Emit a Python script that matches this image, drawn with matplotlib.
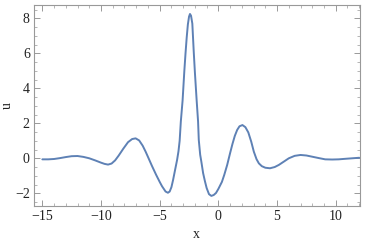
import matplotlib
matplotlib.use("Agg")
import matplotlib.pyplot as plt
from matplotlib.ticker import MultipleLocator

x_vals = [-15.0, -14.5, -14.0, -13.5, -13.0, -12.5, -12.0, -11.5, -11.0, -10.5,
          -10.0, -9.7, -9.4, -9.1, -8.8, -8.5, -8.1, -7.7, -7.35, -7.05,
          -6.75, -6.45, -6.2, -6.0, -5.65, -5.3, -5.0, -4.8, -4.5, -4.3,
          -4.15, -4.0, -3.86, -3.7, -3.52, -3.4, -3.3, -3.2, -3.05, -2.9,
          -2.8, -2.7, -2.6, -2.5, -2.42, -2.33, -2.22, -2.1, -2.0, -1.85,
          -1.73, -1.67, -1.55, -1.45, -1.3, -1.15, -1.0, -0.8, -0.6, -0.4,
          -0.2, 0.0, 0.3, 0.5, 0.75, 1.0, 1.2, 1.4, 1.6, 1.8,
          2.05, 2.3, 2.55, 2.8, 3.02, 3.25, 3.45, 3.7, 4.0, 4.4,
          4.8, 5.15, 5.6, 6.0, 6.5, 7.0, 7.5, 8.0, 8.5, 9.1,
          9.7, 10.25, 10.8, 11.4, 12.0]
u_vals = [-0.06, -0.06, -0.04, 0.01, 0.07, 0.12, 0.13, 0.08, 0.0, -0.12,
          -0.25, -0.32, -0.36, -0.30, -0.12, 0.15, 0.55, 0.92, 1.10, 1.14,
          1.02, 0.72, 0.38, 0.08, -0.45, -0.95, -1.35, -1.60, -1.90, -1.97,
          -1.90, -1.65, -1.24, -0.70, -0.10, 0.40, 1.00, 2.10, 3.30, 5.00,
          6.00, 6.90, 7.65, 8.10, 8.25, 8.15, 7.70, 6.10, 4.90, 3.30,
          2.10, 1.05, 0.20, -0.20, -0.85, -1.30, -1.70, -2.05, -2.15, -2.10,
          -1.98, -1.75, -1.35, -0.95, -0.38, 0.30, 0.82, 1.28, 1.62, 1.83,
          1.90, 1.78, 1.48, 0.95, 0.38, -0.05, -0.29, -0.45, -0.54, -0.57,
          -0.50, -0.38, -0.18, 0.00, 0.14, 0.19, 0.16, 0.09, 0.02, -0.06,
          -0.07, -0.06, -0.03, 0.00, 0.03]

x_ticks = [-15, -10, -5, 0, 5, 10]
y_ticks = [-2, 0, 2, 4, 6, 8]

plt.rcParams['font.family'] = ['Liberation Serif', 'DejaVu Serif']
plt.rcParams['mathtext.fontset'] = 'stix'

fig = plt.figure(figsize=(3.68, 2.41), dpi=100)
ax = fig.add_axes([0.0924, 0.1465, 0.885, 0.8325])
ax.plot(x_vals, u_vals, color='#5E81B5', lw=1.4, solid_capstyle='round',
        solid_joinstyle='round')

ax.set_xlim(-15.71, 12.04)
ax.set_ylim(-2.71, 8.76)
ax.set_xticks(x_ticks)
ax.set_yticks(y_ticks)
ax.set_xticklabels([str(t).replace('-', '\u2212') for t in x_ticks])
ax.set_yticklabels([str(t).replace('-', '\u2212') for t in y_ticks])
ax.xaxis.set_minor_locator(MultipleLocator(1))
ax.yaxis.set_minor_locator(MultipleLocator(0.5))

gray = '#999999'
for s in ax.spines.values():
    s.set_color(gray)
    s.set_linewidth(0.8)
ax.tick_params(which='both', direction='in', top=True, right=True,
               color=gray, labelsize=10, labelcolor='#222222', pad=3)
ax.tick_params(which='major', length=4, width=0.7)
ax.tick_params(which='minor', length=2, width=0.5)

ax.set_xlabel('x', fontsize=10, labelpad=4, color='#222222')
ax.set_ylabel('u', fontsize=10, rotation=90, color='#222222', va='center')
ax.yaxis.set_label_coords(-0.082, 0.5)

fig.savefig('out.png', dpi=100)
